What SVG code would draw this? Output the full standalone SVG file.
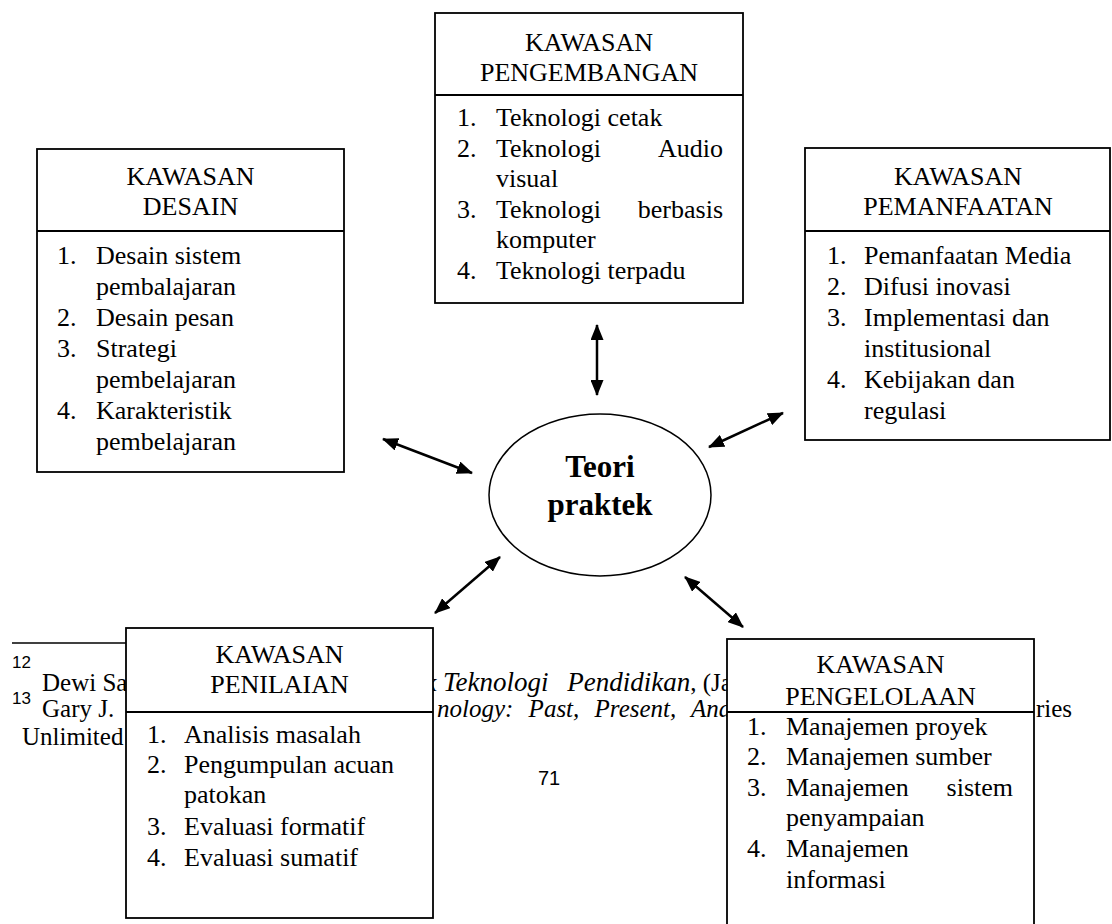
<svg xmlns="http://www.w3.org/2000/svg" width="1112" height="924" viewBox="0 0 1112 924">
<defs>
<style>
text{font-family:"Liberation Serif","Times New Roman",serif;font-size:26px;fill:#000}
.t{text-anchor:middle}
.e{text-anchor:end}
.fn{font-size:25px}
.it{font-style:italic}
.sup{font-family:"Liberation Sans",Arial,sans-serif;font-size:17px}
.pg{font-family:"Liberation Sans",Arial,sans-serif;font-size:20px;text-anchor:middle}
.box{fill:#fff;stroke:#000;stroke-width:1.8}
.div{stroke:#000;stroke-width:1.8}
.arr{stroke:#000;stroke-width:2.5;fill:none;marker-start:url(#ah);marker-end:url(#ah)}
.bold{font-weight:bold;font-size:31px;text-anchor:middle}
</style>
<marker id="ah" viewBox="0 0 16 13" refX="15" refY="6.5" markerWidth="16" markerHeight="13" markerUnits="userSpaceOnUse" orient="auto-start-reverse">
<path d="M0,0 L16,6.5 L0,13 z" fill="#000"/>
</marker>
</defs>

<g id="footnotes">
<line x1="12" y1="643" x2="250" y2="643" stroke="#000" stroke-width="1.5"/>
<text class="sup" x="12" y="668">12</text>
<text class="fn" x="42" y="691">Dewi Sa</text>
<text class="it" x="425" y="691" font-size="27">k</text>
<text x="443" y="691" class="fn"><tspan class="it" font-size="27" word-spacing="12">Teknologi Pendidikan</tspan>, (Ja</text>
<text class="sup" x="12" y="704">13</text>
<text class="fn" x="42" y="717">Gary J.</text>
<text class="fn it" x="437" y="717" word-spacing="9">nology: Past, Present, And</text>
<text class="fn" x="1036" y="717">ries</text>
<text class="fn" x="22" y="745">Unlimited</text>
<text class="pg" x="549" y="785">71</text>
</g>

<g id="desain">
<rect class="box" x="37" y="149" width="307" height="323"/>
<line class="div" x1="37" y1="231" x2="344" y2="231"/>
<text class="t" x="190.5" y="185">KAWASAN</text>
<text class="t" x="190.5" y="215">DESAIN</text>
<text x="57" y="264">1.</text><text x="96" y="264">Desain sistem</text>
<text x="96" y="295">pembalajaran</text>
<text x="57" y="326">2.</text><text x="96" y="326">Desain pesan</text>
<text x="57" y="357">3.</text><text x="96" y="357">Strategi</text>
<text x="96" y="388">pembelajaran</text>
<text x="57" y="419">4.</text><text x="96" y="419">Karakteristik</text>
<text x="96" y="450">pembelajaran</text>
</g>

<g id="pengembangan">
<rect class="box" x="435" y="13" width="308" height="290"/>
<line class="div" x1="435" y1="95" x2="743" y2="95"/>
<text class="t" x="589" y="51">KAWASAN</text>
<text class="t" x="589" y="81">PENGEMBANGAN</text>
<text x="457" y="126">1.</text><text x="496" y="126">Teknologi cetak</text>
<text x="457" y="156.5">2.</text><text x="496" y="156.5">Teknologi</text><text class="e" x="723" y="156.5">Audio</text>
<text x="496" y="187">visual</text>
<text x="457" y="217.5">3.</text><text x="496" y="217.5">Teknologi</text><text class="e" x="723" y="217.5">berbasis</text>
<text x="496" y="248">komputer</text>
<text x="457" y="278.5">4.</text><text x="496" y="278.5">Teknologi terpadu</text>
</g>

<g id="pemanfaatan">
<rect class="box" x="805" y="148" width="305" height="292"/>
<line class="div" x1="805" y1="231" x2="1110" y2="231"/>
<text class="t" x="958" y="185">KAWASAN</text>
<text class="t" x="958" y="215">PEMANFAATAN</text>
<text x="827" y="264">1.</text><text x="864" y="264">Pemanfaatan Media</text>
<text x="827" y="295">2.</text><text x="864" y="295">Difusi inovasi</text>
<text x="827" y="326">3.</text><text x="864" y="326">Implementasi dan</text>
<text x="864" y="357">institusional</text>
<text x="827" y="388">4.</text><text x="864" y="388">Kebijakan dan</text>
<text x="864" y="419">regulasi</text>
</g>

<g id="penilaian">
<rect class="box" x="126" y="628" width="307" height="290"/>
<line class="div" x1="126" y1="712" x2="433" y2="712"/>
<text class="t" x="279.5" y="663">KAWASAN</text>
<text class="t" x="279.5" y="693">PENILAIAN</text>
<text x="147" y="743">1.</text><text x="184" y="743">Analisis masalah</text>
<text x="147" y="773">2.</text><text x="184" y="773">Pengumpulan acuan</text>
<text x="184" y="803">patokan</text>
<text x="147" y="835">3.</text><text x="184" y="835">Evaluasi formatif</text>
<text x="147" y="866">4.</text><text x="184" y="866">Evaluasi sumatif</text>
</g>

<g id="pengelolaan">
<rect class="box" x="727" y="639" width="307" height="300"/>
<line class="div" x1="727" y1="712" x2="1034" y2="712"/>
<text class="t" x="880.5" y="673">KAWASAN</text>
<text class="t" x="880.5" y="705">PENGELOLAAN</text>
<text x="747" y="735">1.</text><text x="786" y="735">Manajemen proyek</text>
<text x="747" y="765">2.</text><text x="786" y="765">Manajemen sumber</text>
<text x="747" y="796">3.</text><text x="786" y="796">Manajemen</text><text class="e" x="1013" y="796">sistem</text>
<text x="786" y="826">penyampaian</text>
<text x="747" y="857">4.</text><text x="786" y="857">Manajemen</text>
<text x="786" y="888">informasi</text>
</g>

<g id="teori-praktek">
<ellipse cx="600" cy="495" rx="111" ry="81" fill="#fff" stroke="#000" stroke-width="1.5"/>
<text class="bold" x="600" y="477">Teori</text>
<text class="bold" x="600" y="515">praktek</text>
</g>

<g id="connectors">
<line class="arr" x1="597" y1="325" x2="597" y2="395"/>
<line class="arr" x1="383" y1="439" x2="472" y2="473"/>
<line class="arr" x1="709" y1="447" x2="783" y2="413"/>
<line class="arr" x1="500" y1="557" x2="435" y2="613"/>
<line class="arr" x1="685" y1="577" x2="743" y2="627"/>
</g>
</svg>
